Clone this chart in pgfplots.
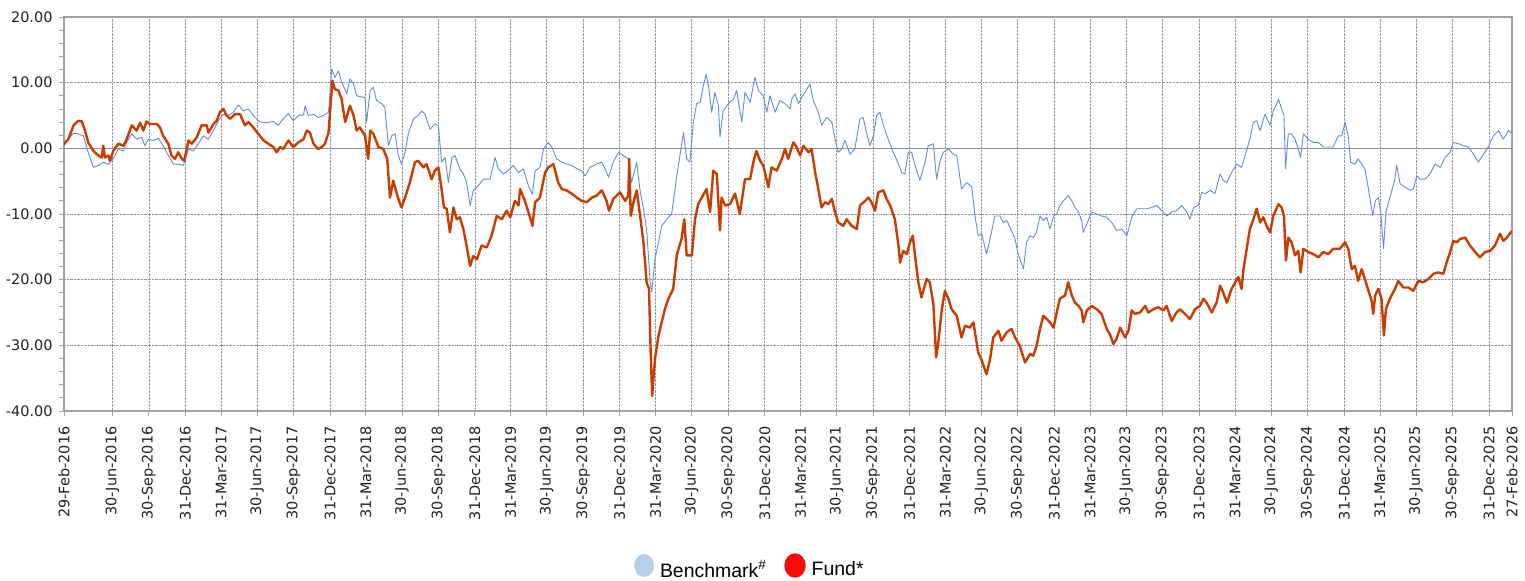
\documentclass[border=0pt]{standalone}
\usepackage{pgfplots}
\pgfplotsset{compat=1.18}
\usepackage{fontspec}
\setmainfont{DejaVu Sans}
\newfontfamily\legfont{Liberation Sans}
\definecolor{fundc}{RGB}{200,60,0}
\definecolor{benchc}{RGB}{95,140,215}
\definecolor{benchleg}{RGB}{184,207,234}
\definecolor{fundleg}{RGB}{250,10,10}
\definecolor{gridc}{RGB}{150,150,160}
\definecolor{framec}{RGB}{160,160,168}
\definecolor{zeroc}{RGB}{145,145,150}

\pgfplotstableread{
d v
0 0.6
3 0.9
11 1.4
24 3.5
36 4.2
45 4.1
53 2.7
61 0.9
74 -0.4
87 -1.1
95 -1.4
99 0.4
103 -1.4
112 -1.1
116 -1.9
124 -0.4
137 0.7
150 0.4
158 1.4
171 3.5
183 2.7
192 3.9
200 2.7
208 4.1
217 3.7
234 3.7
242 3.2
250 1.9
263 0.7
271 -1.1
280 -1.6
288 -0.6
297 -1.6
303 -1.9
314 1.2
322 0.7
335 1.7
347 3.5
360 3.5
364 2.4
377 3.7
385 4.2
393 5.5
402 6.0
410 5.0
419 4.5
431 5.2
444 5.2
456 3.5
465 4.0
477 3.2
490 2.2
503 1.2
515 0.7
528 0.2
536 -0.6
545 0.2
553 -0.1
566 1.2
578 0.2
591 0.9
604 1.4
612 2.7
620 2.4
629 0.7
641 -0.1
650 0.2
658 0.7
667 2.4
672 6.5
677 10.3
683 9.0
692 8.8
700 7.5
709 4.0
721 6.5
730 5.0
738 2.7
746 3.2
759 1.9
767 -1.6
772 2.7
780 2.2
793 0.2
805 -0.1
815 -1.6
822 -7.5
830 -4.9
843 -7.7
851 -9.0
860 -7.5
872 -5.2
885 -2.1
893 -1.9
906 -2.9
914 -2.4
927 -4.7
935 -3.4
944 -2.9
952 -6.2
958 -9.0
965 -9.2
973 -12.8
982 -9.0
990 -10.8
998 -10.5
1007 -12.3
1015 -14.8
1024 -17.9
1032 -16.4
1041 -16.9
1053 -14.8
1066 -15.1
1078 -13.3
1091 -10.3
1104 -10.8
1116 -9.5
1125 -10.5
1137 -8.0
1146 -8.7
1150 -6.2
1162 -8.0
1175 -10.5
1181 -11.8
1188 -8.2
1200 -7.5
1213 -3.7
1221 -2.9
1234 -2.4
1246 -5.2
1255 -6.2
1267 -6.4
1280 -6.9
1293 -7.5
1305 -8.0
1318 -8.2
1331 -7.5
1343 -7.2
1356 -6.4
1368 -8.0
1374 -9.5
1385 -7.7
1402 -6.7
1415 -8.0
1423 -7.2
1425 -1.6
1429 -10.3
1436 -8.2
1444 -6.4
1452 -10.0
1461 -14.3
1469 -20.4
1475 -21.4
1479 -30.6
1483 -37.7
1490 -32.1
1499 -28.5
1507 -26.5
1515 -24.5
1524 -22.9
1536 -21.4
1545 -16.3
1557 -13.8
1564 -10.8
1570 -16.3
1583 -16.3
1591 -10.8
1599 -8.5
1608 -7.5
1620 -6.2
1629 -9.7
1637 -3.4
1646 -3.9
1654 -12.5
1658 -7.5
1667 -8.7
1679 -8.5
1692 -6.9
1704 -10.0
1717 -4.7
1730 -4.7
1738 -2.1
1746 -0.4
1755 -1.9
1763 -2.6
1776 -5.9
1784 -2.9
1797 -3.4
1810 -1.6
1818 -0.1
1826 -1.6
1839 0.9
1847 0.2
1856 -1.1
1864 0.4
1877 -0.6
1885 -0.1
1894 -3.7
1902 -6.2
1910 -9.0
1919 -8.2
1927 -8.5
1936 -7.7
1944 -9.7
1952 -11.3
1965 -11.8
1973 -10.8
1986 -11.8
1999 -12.3
2007 -8.7
2020 -8.0
2028 -7.5
2036 -8.2
2045 -9.5
2053 -6.7
2066 -6.4
2074 -7.7
2083 -8.7
2095 -10.8
2104 -14.8
2108 -17.4
2116 -15.6
2125 -16.1
2133 -14.3
2140 -13.3
2146 -16.4
2154 -20.4
2162 -22.7
2175 -19.9
2183 -20.4
2192 -23.7
2199 -31.8
2204 -29.8
2213 -24.7
2221 -21.7
2230 -22.9
2238 -24.5
2251 -25.5
2263 -28.8
2272 -27.0
2284 -27.3
2293 -26.5
2305 -31.1
2314 -32.3
2326 -34.4
2335 -32.1
2343 -28.8
2356 -27.8
2364 -29.3
2377 -28.0
2389 -27.5
2398 -28.8
2410 -30.1
2423 -32.6
2436 -31.3
2444 -31.6
2452 -30.1
2461 -27.5
2469 -25.5
2478 -26.0
2486 -26.5
2495 -27.3
2503 -25.0
2511 -22.9
2524 -22.4
2532 -20.4
2541 -22.4
2549 -23.5
2558 -24.0
2566 -24.7
2570 -26.5
2579 -24.7
2591 -24.0
2604 -24.5
2616 -25.2
2629 -27.5
2637 -28.3
2646 -29.8
2654 -29.0
2663 -27.3
2675 -28.8
2684 -27.8
2692 -24.7
2700 -25.2
2713 -25.0
2726 -24.0
2734 -25.0
2747 -24.5
2759 -24.2
2772 -24.7
2780 -24.0
2793 -26.3
2805 -25.0
2814 -24.5
2826 -25.2
2839 -26.0
2852 -24.5
2864 -24.0
2873 -22.9
2881 -23.5
2894 -25.0
2906 -23.5
2915 -20.9
2923 -22.0
2932 -23.5
2944 -21.4
2953 -20.4
2961 -19.6
2969 -21.4
2974 -18.4
2982 -15.3
2990 -12.3
2999 -10.8
3007 -9.2
3016 -11.3
3024 -10.5
3032 -11.8
3041 -12.8
3049 -10.3
3062 -8.5
3070 -9.0
3076 -10.3
3081 -17.1
3087 -13.6
3095 -14.3
3104 -16.3
3112 -15.6
3118 -18.9
3125 -15.3
3137 -15.8
3150 -16.1
3163 -16.6
3175 -15.8
3188 -16.1
3200 -15.3
3217 -15.3
3230 -14.3
3238 -15.3
3247 -18.4
3255 -17.9
3263 -20.2
3272 -18.4
3280 -19.9
3289 -21.7
3297 -23.2
3301 -25.2
3306 -22.4
3314 -21.4
3322 -22.9
3328 -28.5
3333 -24.5
3343 -22.9
3356 -21.4
3364 -20.2
3377 -21.2
3390 -21.2
3402 -21.7
3415 -20.2
3427 -20.4
3440 -19.9
3453 -19.1
3465 -18.9
3478 -19.1
3486 -17.4
3495 -15.8
3503 -14.1
3512 -14.3
3520 -13.8
3533 -13.6
3545 -14.8
3558 -15.8
3570 -16.6
3583 -15.8
3596 -15.6
3608 -14.8
3621 -13.0
3629 -14.1
3638 -13.6
3648 -12.8
3651 -12.6
}\fundtable

\pgfplotstableread{
d v
0 0.5
3 0.7
15 1.7
24 2.3
36 2.2
49 1.9
61 -0.6
74 -2.9
87 -2.6
99 -2.1
112 -2.4
124 -1.6
137 -0.1
150 -0.4
158 0.9
171 2.2
183 1.4
196 1.7
204 0.4
213 1.4
225 1.2
238 1.5
250 0.4
263 -1.1
276 -2.4
288 -2.4
301 -2.6
314 -0.1
326 -0.4
339 0.7
351 1.9
364 1.4
377 2.7
389 4.2
402 5.2
414 5.0
427 5.5
440 6.6
452 5.7
465 6.0
477 5.0
494 4.0
511 3.9
528 4.1
540 3.5
553 4.5
566 5.3
578 4.2
591 5.0
604 5.1
608 6.5
616 5.0
629 5.2
641 4.7
654 5.0
667 5.5
675 12.1
683 10.8
692 11.8
700 10.1
713 8.3
721 10.6
730 9.8
738 8.0
751 7.8
759 7.8
763 4.0
772 8.8
780 9.3
788 7.3
801 6.8
809 6.2
818 0.4
826 1.9
835 2.2
843 -1.1
851 -2.4
860 -0.6
868 2.2
881 4.5
893 5.0
902 5.7
910 5.2
923 2.9
935 3.7
944 3.5
952 -2.1
961 -1.4
969 -5.2
978 -1.4
986 -1.1
998 -3.1
1007 -3.9
1015 -5.2
1024 -8.7
1032 -6.4
1045 -5.7
1057 -4.7
1074 -4.7
1087 -1.4
1095 -3.1
1108 -3.9
1120 -3.4
1133 -2.6
1146 -3.7
1158 -3.1
1171 -5.7
1181 -7.0
1188 -3.4
1200 -2.9
1209 -0.1
1221 0.9
1230 0.2
1242 -1.6
1255 -2.1
1267 -2.4
1280 -2.6
1293 -3.1
1305 -3.4
1314 -4.2
1326 -2.9
1343 -2.4
1356 -2.1
1364 -3.1
1373 -4.4
1385 -2.1
1398 -0.6
1410 -1.1
1423 -1.6
1431 -5.2
1444 -2.1
1452 -6.2
1461 -9.2
1469 -12.3
1478 -20.4
1482 -21.9
1490 -16.9
1499 -14.3
1507 -11.8
1520 -10.8
1532 -10.0
1545 -4.2
1553 -1.1
1562 2.4
1570 -1.6
1578 -2.1
1587 4.0
1595 6.8
1604 7.0
1612 9.5
1619 11.3
1625 9.5
1633 5.5
1641 8.5
1650 6.5
1654 1.7
1662 5.7
1675 6.8
1688 7.5
1696 8.8
1709 4.0
1717 8.5
1730 7.0
1742 10.8
1751 8.8
1763 8.0
1772 5.5
1780 8.0
1793 5.5
1805 7.3
1818 6.8
1831 6.0
1835 7.5
1843 8.3
1852 6.8
1860 7.8
1868 8.5
1881 9.8
1889 7.3
1902 5.5
1910 3.5
1923 4.7
1936 4.0
1944 1.4
1952 -0.6
1961 -0.1
1969 1.2
1982 -0.9
1994 -0.1
2007 4.5
2015 4.7
2024 2.2
2032 0.4
2041 1.9
2049 5.0
2057 5.5
2066 3.5
2078 1.4
2091 -0.6
2104 -2.4
2112 -3.7
2120 -3.9
2129 -0.6
2137 -0.6
2146 -2.6
2158 -4.9
2171 -2.1
2179 0.4
2192 0.7
2200 -4.7
2209 -1.9
2217 -0.6
2230 -0.1
2242 -0.9
2251 -1.1
2263 -6.2
2276 -5.2
2289 -5.9
2297 -10.3
2305 -13.3
2314 -13.0
2326 -16.1
2335 -13.8
2347 -10.3
2360 -10.3
2368 -11.3
2377 -11.0
2385 -12.0
2398 -13.8
2406 -16.1
2419 -18.4
2427 -14.3
2436 -13.3
2444 -13.6
2452 -12.8
2461 -10.3
2469 -11.0
2478 -10.5
2486 -12.3
2495 -10.3
2503 -10.0
2511 -8.7
2520 -8.0
2532 -7.2
2541 -8.0
2549 -9.0
2558 -9.7
2566 -11.0
2570 -12.8
2579 -11.5
2591 -9.7
2604 -10.0
2616 -10.3
2629 -10.5
2642 -11.3
2654 -12.5
2667 -12.3
2680 -13.3
2692 -10.5
2705 -9.2
2717 -9.2
2730 -9.2
2743 -9.0
2755 -8.7
2768 -9.5
2780 -10.3
2793 -9.7
2805 -9.5
2818 -8.7
2831 -9.7
2839 -10.8
2848 -9.0
2860 -8.7
2869 -6.7
2877 -6.9
2890 -6.4
2902 -6.9
2915 -3.9
2923 -4.9
2932 -5.2
2944 -3.7
2957 -2.4
2969 -2.9
2978 -1.1
2990 1.4
2999 4.0
3007 4.2
3016 2.7
3028 5.2
3041 3.5
3049 5.7
3058 6.8
3062 7.5
3070 6.0
3076 5.0
3080 -3.1
3087 2.2
3095 2.2
3104 1.4
3112 -0.1
3118 -1.4
3125 2.2
3137 1.4
3150 0.9
3163 0.9
3175 0.2
3188 0.2
3200 0.2
3213 1.9
3222 1.9
3230 4.0
3238 1.9
3244 -2.1
3255 -2.4
3263 -1.6
3272 -2.4
3280 -3.1
3289 -6.2
3300 -10.3
3306 -8.0
3314 -7.5
3320 -9.7
3327 -15.3
3333 -9.7
3343 -7.5
3356 -4.7
3360 -2.6
3369 -5.4
3381 -5.9
3394 -6.4
3402 -6.2
3411 -4.2
3419 -4.7
3432 -4.7
3444 -3.9
3457 -2.4
3470 -2.9
3482 -1.4
3495 -0.6
3503 0.9
3516 0.7
3528 0.4
3541 0.2
3554 -0.9
3566 -2.1
3579 -0.9
3591 0.2
3604 1.9
3617 2.7
3629 1.4
3642 2.7
3648 2.4
3651 2.6
}\benchtable

\begin{document}
\begin{tikzpicture}[x=1bp,y=1bp]
\useasboundingbox (-64,-170) rectangle (1461,411);
\begin{axis}[
  at={(0,0)}, anchor=south west,
  scale only axis, width=1448bp, height=394bp,
  xmin=0, xmax=3651, ymin=-40, ymax=20,
  axis line style={framec, line width=1.2bp},
  tick pos=left,
  tick align=outside,
  major tick length=5bp, minor tick length=5bp,
  every tick/.style={framec, line width=0.8bp},
  ytick={-40,-30,-20,-10,0,10,20},
  yticklabels={-40.00,-30.00,-20.00,-10.00,0.00,10.00,20.00},
  minor ytick={-38,-36,-34,-32,-28,-26,-24,-22,-18,-16,-14,-12,-8,-6,-4,-2,2,4,6,8,12,14,16,18},
  xtick={0,122,214,306,396,487,579,671,761,852,944,1036,1126,1217,1309,1401,1492,1583,1675,1767,1857,1948,2040,2132,2222,2313,2405,2497,2587,2678,2770,2862,2953,3044,3136,3228,3318,3409,3501,3593,3651},
  xticklabels={29-Feb-2016,30-Jun-2016,30-Sep-2016,31-Dec-2016,31-Mar-2017,30-Jun-2017,30-Sep-2017,31-Dec-2017,31-Mar-2018,30-Jun-2018,30-Sep-2018,31-Dec-2018,31-Mar-2019,30-Jun-2019,30-Sep-2019,31-Dec-2019,31-Mar-2020,30-Jun-2020,30-Sep-2020,31-Dec-2020,31-Mar-2021,30-Jun-2021,30-Sep-2021,31-Dec-2021,31-Mar-2022,30-Jun-2022,30-Sep-2022,31-Dec-2022,31-Mar-2023,30-Jun-2023,30-Sep-2023,31-Dec-2023,31-Mar-2024,30-Jun-2024,30-Sep-2024,31-Dec-2024,31-Mar-2025,30-Jun-2025,30-Sep-2025,31-Dec-2025,27-Feb-2026},
  xmajorgrids, ymajorgrids,
  grid style={gridc, densely dotted, line width=0.7bp},
  ticklabel style={font=\fontsize{14.5}{17}\selectfont, color=black!88},
  xticklabel style={rotate=90, anchor=east},
  xticklabel shift=7bp,
  yticklabel shift=3bp,
  legend columns=2,
  legend style={at={(0.3936,-0.396)}, anchor=west, draw=none, fill=none,
    inner sep=0pt, font=\legfont\fontsize{19.5}{22}\selectfont,
    /tikz/every even column/.append style={column sep=16bp}},
]
\addplot[forget plot, zeroc, line width=1.3bp] coordinates {(0,0) (3651,0)};
\addplot[benchc, line width=0.9bp, line join=round,
  legend image code/.code={\fill[benchleg] (9.5bp,4bp) ellipse [x radius=9.5bp, y radius=11bp];}]
  table[x=d, y=v] {\benchtable};
\addlegendentry{\hspace{4bp}Benchmark\textsuperscript{\#}}
\addplot[fundc, line width=2.4bp, line join=round,
  legend image code/.code={\fill[fundleg] (9.5bp,4bp) ellipse [x radius=9.5bp, y radius=11bp];}]
  table[x=d, y=v] {\fundtable};
\addlegendentry{\hspace{4bp}Fund*}
\end{axis}
\end{tikzpicture}
\end{document}
